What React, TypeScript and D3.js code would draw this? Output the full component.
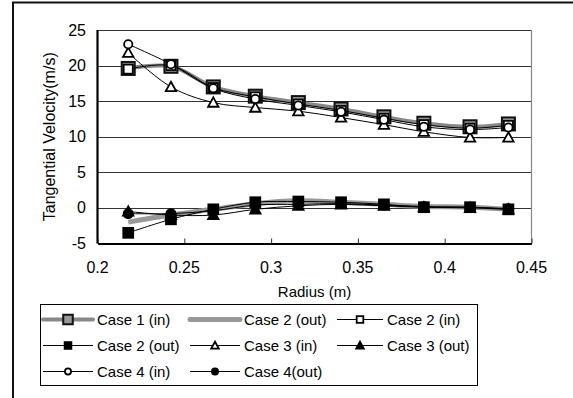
import * as d3 from 'd3';
import { useEffect, useRef } from 'react';

const radius = [0.2177, 0.2423, 0.2667, 0.2909, 0.3157, 0.3403, 0.365, 0.388, 0.4146, 0.4367];
const case1In = [19.6, 19.9, 17.0, 15.7, 14.8, 13.9, 12.8, 11.9, 11.4, 11.8];
const case2OutGray = [-2.0, -1.0, -0.2, 0.6, 1.0, 0.8, 0.5, 0.2, 0.1, -0.2];
const case2In = [19.5, 20.0, 16.9, 15.6, 14.6, 13.7, 12.6, 11.7, 11.2, 11.6];
const case2Out = [-3.5, -1.6, -0.2, 0.8, 0.9, 0.8, 0.5, 0.1, 0.1, -0.2];
const case3In = [21.8, 17.0, 14.8, 14.1, 13.6, 12.7, 11.7, 10.7, 9.9, 9.9];
const case3Out = [-0.5, -1.0, -1.0, -0.2, 0.3, 0.5, 0.3, 0.1, 0.0, -0.2];
const case4In = [23.0, 20.2, 16.8, 15.3, 14.4, 13.5, 12.4, 11.4, 11.0, 11.3];
const case4Out = [-0.8, -0.8, -0.4, 0.4, 0.5, 0.6, 0.4, 0.2, 0.1, -0.1];

const yTicks = [-5, 0, 5, 10, 15, 20, 25];
const xTicks = [0.2, 0.25, 0.3, 0.35, 0.4, 0.45];

// marker: 'bigsq' | 'opensq' | 'sq' | 'opentri' | 'tri' | 'opencirc' | 'circ' | null
const series = [
  { name: 'Case 1 (in)', values: case1In, color: '#888', width: 4, marker: 'bigsq' },
  { name: 'Case 2 (out)', values: case2OutGray, color: '#999', width: 5, marker: null },
  { name: 'Case 2 (in)', values: case2In, color: '#000', width: 1, marker: 'opensq' },
  { name: 'Case 2 (out)', values: case2Out, color: '#000', width: 1, marker: 'sq' },
  { name: 'Case 3 (in)', values: case3In, color: '#000', width: 1, marker: 'opentri' },
  { name: 'Case 3 (out)', values: case3Out, color: '#000', width: 1, marker: 'tri' },
  { name: 'Case 4 (in)', values: case4In, color: '#000', width: 1, marker: 'opencirc' },
  { name: 'Case 4(out)', values: case4Out, color: '#000', width: 1, marker: 'circ' },
];

const drawMarker = (g, type, x, y, k) => {
  switch (type) {
    case 'bigsq':
      g.append('rect').attr('x', x - 5 * k).attr('y', y - 5 * k)
        .attr('width', 10 * k).attr('height', 10 * k)
        .attr('fill', '#999').attr('stroke', '#111').attr('stroke-width', 2);
      break;
    case 'opensq':
      g.append('rect').attr('x', x - 3.5 * k).attr('y', y - 3.5 * k)
        .attr('width', 7 * k).attr('height', 7 * k)
        .attr('fill', '#fff').attr('stroke', '#000').attr('stroke-width', 1.8);
      break;
    case 'sq':
      g.append('rect').attr('x', x - 4.5 * k).attr('y', y - 4.5 * k)
        .attr('width', 9 * k).attr('height', 9 * k).attr('fill', '#000');
      break;
    case 'opentri':
    case 'tri':
      g.append('path')
        .attr('d', `M${x},${y - 4 * k} L${x + 4 * k},${y + 3.2 * k} L${x - 4 * k},${y + 3.2 * k} Z`)
        .attr('fill', type === 'tri' ? '#000' : '#fff')
        .attr('stroke', '#000').attr('stroke-width', 1.8);
      break;
    case 'opencirc':
      g.append('circle').attr('cx', x).attr('cy', y).attr('r', 3.2 * k)
        .attr('fill', '#fff').attr('stroke', '#000').attr('stroke-width', 1.8);
      break;
    case 'circ':
      g.append('circle').attr('cx', x).attr('cy', y).attr('r', 4.2 * k).attr('fill', '#000');
      break;
    default:
      break;
  }
};

const Graph = () => {
  const ref = useRef(null);

  useEffect(() => {
    const width = 573;
    const height = 398;
    const left = 97.5;
    const right = 531.5;
    const top = 30;
    const bottom = 243.5;
    const font = 'Liberation Sans, Arial, sans-serif';

    ref.current.innerHTML = '';
    const svg = d3.select(ref.current)
      .append('svg')
      .attr('width', width)
      .attr('height', height)
      .style('position', 'absolute')
      .style('left', 0)
      .style('top', 0)
      .attr('font-family', font);

    svg.append('rect').attr('width', width).attr('height', height).attr('fill', '#fff');
    // outer chart frame (clipped on right/bottom)
    svg.append('rect')
      .attr('x', 13).attr('y', 2.5).attr('width', 700).attr('height', 500)
      .attr('fill', 'none').attr('stroke', '#111').attr('stroke-width', 2);

    const x = d3.scaleLinear([0.2, 0.45], [left, right]);
    const y = d3.scaleLinear([-5, 25], [bottom, top]);

    // gridlines
    svg.append('g')
      .selectAll('line')
      .data(yTicks.filter((d) => d > -5))
      .join('line')
      .attr('x1', left).attr('x2', right)
      .attr('y1', (d) => Math.round(y(d)) + 0.5).attr('y2', (d) => Math.round(y(d)) + 0.5)
      .attr('stroke', '#333').attr('stroke-width', 1);

    svg.append('line')
      .attr('x1', right).attr('x2', right).attr('y1', top).attr('y2', bottom)
      .attr('stroke', '#888').attr('stroke-width', 1.2);

    // axes
    svg.append('g')
      .attr('transform', `translate(0,${bottom})`)
      .call(d3.axisTop(x).tickValues(xTicks).tickSize(5).tickSizeOuter(0).tickFormat(() => ''))
      .call((g) => {
        g.select('.domain').attr('stroke', '#000').attr('stroke-width', 2.2);
        g.selectAll('.tick line').attr('stroke', '#333');
      });
    svg.append('g')
      .selectAll('text')
      .data(xTicks)
      .join('text')
      .attr('x', (d) => x(d))
      .attr('y', 273)
      .attr('text-anchor', 'middle')
      .attr('font-size', 16)
      .text((d) => d3.format('')(d));

    svg.append('line')
      .attr('x1', left).attr('x2', left).attr('y1', top).attr('y2', bottom)
      .attr('stroke', '#000').attr('stroke-width', 2.2);
    svg.append('g')
      .selectAll('text')
      .data(yTicks)
      .join('text')
      .attr('x', 86)
      .attr('y', (d) => y(d) + 5.5)
      .attr('text-anchor', 'end')
      .attr('font-size', 16)
      .text((d) => d);

    svg.append('text')
      .attr('transform', `translate(55,${(top + bottom) / 2}) rotate(-90)`)
      .attr('text-anchor', 'middle')
      .attr('font-size', 16)
      .text('Tangential Velocity(m/s)');
    svg.append('text')
      .attr('x', (left + right) / 2)
      .attr('y', 297)
      .attr('text-anchor', 'middle')
      .attr('font-size', 15)
      .text('Radius (m)');

    const line = d3.line()
      .curve(d3.curveCatmullRom.alpha(0.5))
      .x((d) => x(d[0]))
      .y((d) => y(d[1]));

    const plot = svg.append('g');
    series.forEach((s) => {
      const pts = radius.map((r, i) => [r, s.values[i]]);
      plot.append('path')
        .attr('d', line(pts))
        .attr('fill', 'none')
        .attr('stroke', s.color)
        .attr('stroke-width', s.width);
      if (s.marker) {
        const mg = plot.append('g');
        pts.forEach((p) => drawMarker(mg, s.marker, x(p[0]), y(p[1]), 1.3));
      }
    });

    // legend
    const legend = svg.append('g');
    legend.append('rect')
      .attr('x', 40.5).attr('y', 304.5).attr('width', 437).attr('height', 81)
      .attr('fill', '#fff').attr('stroke', '#000').attr('stroke-width', 1);
    const colX = [43, 190, 337];
    const rowY = [319.5, 345.5, 371.5];
    series.forEach((s, i) => {
      const cx = colX[i % 3];
      const cy = rowY[Math.floor(i / 3)];
      const w = i % 3 === 2 ? 46 : 50;
      legend.append('line')
        .attr('x1', cx).attr('x2', cx + w).attr('y1', cy).attr('y2', cy)
        .attr('stroke', s.color).attr('stroke-width', s.width)
        .attr('stroke-linecap', s.width > 1 ? 'round' : 'butt');
      if (s.marker) drawMarker(legend, s.marker, cx + w / 2, cy, 0.95);
      legend.append('text')
        .attr('x', cx + w + 4)
        .attr('y', cy + 5.5)
        .attr('font-size', 15)
        .text(s.name);
    });
  }, []);

  return <div ref={ref} />;
};

export default function App() {
  return <Graph />;
}
